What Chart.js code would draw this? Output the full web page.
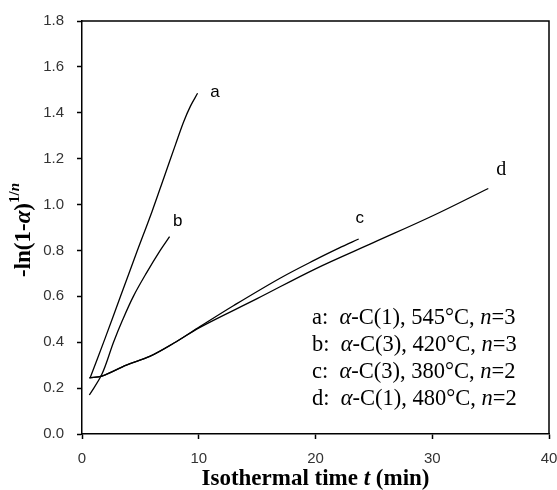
<!DOCTYPE html>
<html>
<head>
<meta charset="utf-8">
<script src="https://cdn.jsdelivr.net/npm/chart.js@4.4.1/dist/chart.umd.min.js"></script>
<style>
  html, body { margin: 0; padding: 0; background: #fff; }
  canvas { display: block; }
</style>
</head>
<body>
<canvas id="myChart" width="557" height="490"></canvas>
<script>
// time (min) and -ln(1-alpha)^(1/n) for each run
const timeA = [0.7, 2.0, 3.3, 4.6, 6.0, 7.0, 8.0, 8.7, 9.3, 9.9];
const valA  = [0.245, 0.42, 0.60, 0.78, 0.97, 1.115, 1.26, 1.36, 1.43, 1.485];

const timeB = [0.63, 1.7, 2.7, 3.5, 4.4, 5.5, 6.7, 7.5];
const valB  = [0.17, 0.26, 0.40, 0.50, 0.60, 0.70, 0.80, 0.86];

const timeC = [0.63, 1.7, 3.8, 5.8, 8.0, 10.1, 13.0, 17.0, 20.0, 22.0, 23.7];
const valC  = [0.245, 0.252, 0.30, 0.338, 0.40, 0.468, 0.56, 0.68, 0.76, 0.81, 0.85];

const timeD = [0.63, 1.7, 3.8, 5.8, 8.0, 10.1, 15.0, 20.0, 25.0, 30.0, 34.8];
const valD  = [0.245, 0.252, 0.30, 0.338, 0.40, 0.465, 0.59, 0.72, 0.835, 0.95, 1.07];

const xTicks = [0, 10, 20, 30, 40];
const yTicks = [0, 0.2, 0.4, 0.6, 0.8, 1.0, 1.2, 1.4, 1.6, 1.8];

// curve tags and legend text positions (data coords)
const curveTags = [
  { text: "a", t: 11.4, v: 1.49, font: "17px 'Liberation Sans'" },
  { text: "b", t: 8.2, v: 0.925, font: "17px 'Liberation Sans'" },
  { text: "c", t: 23.8, v: 0.94, font: "17px 'Liberation Sans'" },
  { text: "d", t: 35.9, v: 1.15, font: "20px 'Liberation Serif'" },
];
const legendLines = [
  ["a:  ", "-C(1), 545°C, ", "=3"],
  ["b:  ", "-C(3), 420°C, ", "=3"],
  ["c:  ", "-C(3), 380°C, ", "=2"],
  ["d:  ", "-C(1), 480°C, ", "=2"],
];
const legendX = 19.7;
const legendY = [0.506, 0.388, 0.27, 0.153];

const toPoints = (ts, vs) => ts.map((t, i) => ({ x: t, y: vs[i] }));

const lineStyle = {
  borderColor: "#000",
  borderWidth: 1.3,
  pointRadius: 0,
  fill: false,
  tension: 0.35,
};

const data = {
  datasets: [
    { label: "a", data: toPoints(timeA, valA), ...lineStyle },
    { label: "b", data: toPoints(timeB, valB), ...lineStyle },
    { label: "c", data: toPoints(timeC, valC), ...lineStyle },
    { label: "d", data: toPoints(timeD, valD), ...lineStyle },
  ],
};

const extras = {
  id: "extras",
  afterDraw(chart) {
    const ctx = chart.ctx;
    const area = chart.chartArea;
    const sx = chart.scales.x, sy = chart.scales.y;
    ctx.save();

    // frame top + right
    ctx.strokeStyle = "#000";
    ctx.lineWidth = 1.5;
    ctx.beginPath();
    ctx.moveTo(area.left, area.top);
    ctx.lineTo(area.right, area.top);
    ctx.lineTo(area.right, area.bottom);
    ctx.stroke();

    ctx.fillStyle = "#000";
    ctx.textBaseline = "middle";

    // curve tags
    curveTags.forEach(tag => {
      ctx.font = tag.font;
      ctx.textAlign = "center";
      ctx.fillText(tag.text, sx.getPixelForValue(tag.t), sy.getPixelForValue(tag.v));
    });

    // legend block
    ctx.textAlign = "left";
    const up = "22.5px 'Liberation Serif'";
    const it = "italic 22.5px 'Liberation Serif'";
    legendLines.forEach((parts, i) => {
      let x = sx.getPixelForValue(legendX);
      const y = sy.getPixelForValue(legendY[i]);
      const seq = [[parts[0], up], ["α", it], [parts[1], up], ["n", it], [parts[2], up]];
      seq.forEach(([s, f]) => {
        ctx.font = f;
        ctx.fillText(s, x, y);
        x += ctx.measureText(s).width;
      });
    });

    // x title
    ctx.textBaseline = "alphabetic";
    const xs = [["Isothermal time ", "bold 23px 'Liberation Serif'"],
                ["t", "bold italic 23px 'Liberation Serif'"],
                [" (min)", "bold 23px 'Liberation Serif'"]];
    let total = 0;
    xs.forEach(([s, f]) => { ctx.font = f; total += ctx.measureText(s).width; });
    let x0 = (area.left + area.right) / 2 - total / 2;
    xs.forEach(([s, f]) => {
      ctx.font = f;
      ctx.fillText(s, x0, 485);
      x0 += ctx.measureText(s).width;
    });

    // y title, rotated, with superscript 1/n
    ctx.translate(30, 0);
    ctx.rotate(-Math.PI / 2);
    const mainF = "bold 23px 'Liberation Serif'";
    const alphaF = "bold italic 23px 'Liberation Serif'";
    const supF = "bold 15px 'Liberation Serif'";
    const supI = "bold italic 15px 'Liberation Serif'";
    const ySeq = [["-ln(1-", mainF, 0], ["α", alphaF, 0], [")", mainF, 0], ["1/", supF, -11], ["n", supI, -11]];
    let w = 0;
    ySeq.forEach(([s, f]) => { ctx.font = f; w += ctx.measureText(s).width; });
    let px = -230 - w / 2;
    ySeq.forEach(([s, f, dy]) => {
      ctx.font = f;
      ctx.fillText(s, px, dy);
      px += ctx.measureText(s).width;
    });

    ctx.restore();
  },
};

const config = {
  type: "line",
  data: data,
  options: {
    responsive: false,
    devicePixelRatio: 1,
    animation: false,
    layout: { autoPadding: false, padding: { top: 21, right: 8, left: 0, bottom: 0 } },
    plugins: { legend: { display: false }, tooltip: { enabled: false } },
    scales: {
      x: {
        type: "linear",
        min: 0,
        max: 40,
        afterBuildTicks: s => { s.ticks = xTicks.map(v => ({ value: v })); },
        afterFit: s => { s.height = 56; s.paddingLeft = 0; s.paddingRight = 0; },
        border: { color: "#000", width: 1.5 },
        grid: { drawOnChartArea: false, drawTicks: true, tickLength: 5, color: "#000", tickWidth: 1.5 },
        ticks: {
          color: "#333",
          padding: 11,
          maxRotation: 0,
          font: { family: "'Liberation Sans'", size: 15 },
          callback: v => String(v),
        },
      },
      y: {
        type: "linear",
        min: 0,
        max: 1.8,
        afterBuildTicks: s => { s.ticks = yTicks.map(v => ({ value: v })); },
        afterFit: s => { s.width = 82; s.paddingTop = 0; s.paddingBottom = 0; },
        border: { color: "#000", width: 1.5 },
        grid: { drawOnChartArea: false, drawTicks: true, tickLength: 5, color: "#000", tickWidth: 1.5 },
        ticks: {
          color: "#333",
          padding: 13,
          font: { family: "'Liberation Sans'", size: 15 },
          callback: v => v.toFixed(1),
        },
      },
    },
  },
  plugins: [extras],
};

const myChart = new Chart(document.getElementById("myChart").getContext("2d"), config);
</script>
</body>
</html>
